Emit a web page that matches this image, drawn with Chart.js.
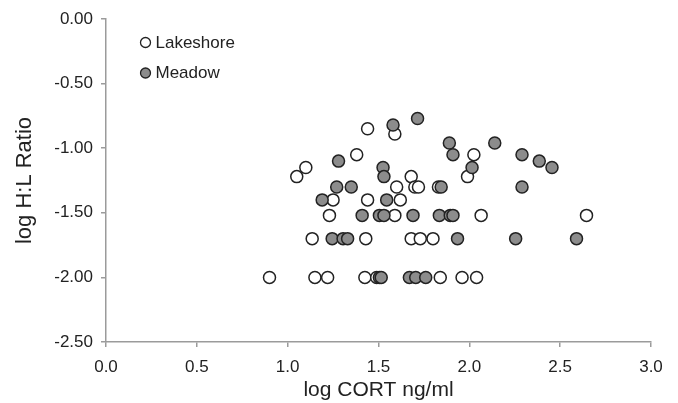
<!DOCTYPE html>
<html>
<head>
<meta charset="utf-8">
<script src="https://cdn.jsdelivr.net/npm/chart.js@4/dist/chart.umd.min.js"></script>
<style>
  html, body { margin: 0; padding: 0; background: #fff; }
  #wrap { width: 678px; height: 403px; position: relative; }
</style>
</head>
<body>
<div id="wrap"><canvas id="c"></canvas></div>
<script>
// ---- Data ----
const seriesNames = ["Lakeshore", "Meadow"];

const lakeshoreX = [0.90, 1.05, 1.10, 1.135, 1.15, 1.22, 1.23, 1.25, 1.38, 1.425, 1.43, 1.44, 1.44, 1.49,
                    1.59, 1.59, 1.60, 1.62, 1.68, 1.68, 1.70, 1.72, 1.73, 1.80, 1.83, 1.84, 1.96, 1.99,
                    2.025, 2.04, 2.065, 2.645];
const lakeshoreY = [-2.00, -1.22, -1.15, -1.70, -2.00, -2.00, -1.52, -1.40, -1.05, -2.00, -1.70, -0.85, -1.40, -2.00,
                    -0.89, -1.52, -1.30, -1.40, -1.22, -1.70, -1.30, -1.30, -1.70, -1.70, -1.30, -2.00, -2.00, -1.22,
                    -1.05, -2.00, -1.52, -1.52];

const meadowX = [1.19, 1.245, 1.27, 1.28, 1.305, 1.33, 1.35, 1.41, 1.505, 1.505, 1.515, 1.525, 1.53, 1.53,
                 1.545, 1.58, 1.67, 1.69, 1.705, 1.715, 1.76, 1.835, 1.845, 1.89, 1.895, 1.91, 1.91, 1.935,
                 2.015, 2.14, 2.255, 2.29, 2.29, 2.385, 2.455, 2.59];
const meadowY = [-1.40, -1.70, -1.30, -1.10, -1.70, -1.70, -1.30, -1.52, -1.52, -2.00, -2.00, -1.15, -1.22, -1.52,
                 -1.40, -0.82, -2.00, -1.52, -2.00, -0.77, -2.00, -1.52, -1.30, -0.96, -1.52, -1.05, -1.52, -1.70,
                 -1.15, -0.96, -1.70, -1.05, -1.30, -1.10, -1.15, -1.70];

const xTickValues = [0.0, 0.5, 1.0, 1.5, 2.0, 2.5, 3.0];
const yTickValues = [0.00, -0.50, -1.00, -1.50, -2.00, -2.50];
const xTitle = "log CORT ng/ml";
const yTitle = "log H:L Ratio";

// ---- Build ----
const toPts = (xs, ys) => xs.map((x, i) => ({ x: x, y: ys[i] }));
const TXT = "#222222";
const AX = "#9b9b9b";
const FONT = "'Liberation Sans', Arial, Helvetica, sans-serif";

const legendPlugin = {
  id: "insideLegend",
  afterDraw(chart) {
    const ctx = chart.ctx;
    const rows = [{ y: 42.5 }, { y: 73 }];
    chart.data.datasets.forEach((ds, i) => {
      const cy = rows[i].y, cx = 145.5;
      ctx.save();
      ctx.beginPath();
      ctx.arc(cx, cy, 5, 0, Math.PI * 2);
      ctx.fillStyle = ds.backgroundColor;
      ctx.fill();
      ctx.lineWidth = 1.3;
      ctx.strokeStyle = ds.borderColor;
      ctx.stroke();
      ctx.fillStyle = TXT;
      ctx.font = "17px " + FONT;
      ctx.textBaseline = "middle";
      ctx.textAlign = "left";
      ctx.fillText(ds.label, 155.5, cy + 0.5);
      ctx.restore();
    });
  }
};

new Chart(document.getElementById("c"), {
  type: "scatter",
  data: {
    datasets: [
      {
        label: seriesNames[0],
        data: toPts(lakeshoreX, lakeshoreY),
        backgroundColor: "#ffffff",
        borderColor: "#222222",
        borderWidth: 1.5,
        pointRadius: 6,
        pointHoverRadius: 6,
        order: 2
      },
      {
        label: seriesNames[1],
        data: toPts(meadowX, meadowY),
        backgroundColor: "#8c8c8c",
        borderColor: "#222222",
        borderWidth: 1.5,
        pointRadius: 6,
        pointHoverRadius: 6,
        order: 1
      }
    ]
  },
  options: {
    responsive: true,
    maintainAspectRatio: false,
    animation: false,
    events: [],
    layout: { padding: { top: 19, right: 27, bottom: 0, left: 0 } },
    plugins: {
      legend: { display: false },
      tooltip: { enabled: false }
    },
    scales: {
      x: {
        type: "linear",
        min: 0, max: 3,
        afterBuildTicks: (s) => { s.ticks = xTickValues.map(v => ({ value: v })); },
        afterFit: (s) => { s.height = 61; },
        ticks: {
          color: TXT,
          font: { family: FONT, size: 17 },
          padding: 10,
          callback: (v) => Number(v).toFixed(1),
          maxRotation: 0
        },
        grid: { display: true, drawOnChartArea: false, drawTicks: true, tickLength: 5, color: AX, lineWidth: 1.5 },
        border: { display: true, color: AX, width: 1.5 },
        title: { display: true, text: xTitle, color: TXT, font: { family: FONT, size: 21 }, padding: { top: 0, bottom: 0 } }
      },
      y: {
        type: "linear",
        min: -2.5, max: 0,
        afterBuildTicks: (s) => { s.ticks = yTickValues.map(v => ({ value: v })); },
        afterFit: (s) => { s.width = 106; },
        ticks: {
          color: TXT,
          font: { family: FONT, size: 17 },
          padding: 8,
          callback: (v) => Number(v).toFixed(2)
        },
        grid: { display: true, drawOnChartArea: false, drawTicks: true, tickLength: 5, color: AX, lineWidth: 1.5 },
        border: { display: true, color: AX, width: 1.5 },
        title: { display: true, text: yTitle, color: TXT, font: { family: FONT, size: 22 }, padding: { top: 12, bottom: 0 } }
      }
    }
  },
  plugins: [legendPlugin]
});
</script>
</body>
</html>
